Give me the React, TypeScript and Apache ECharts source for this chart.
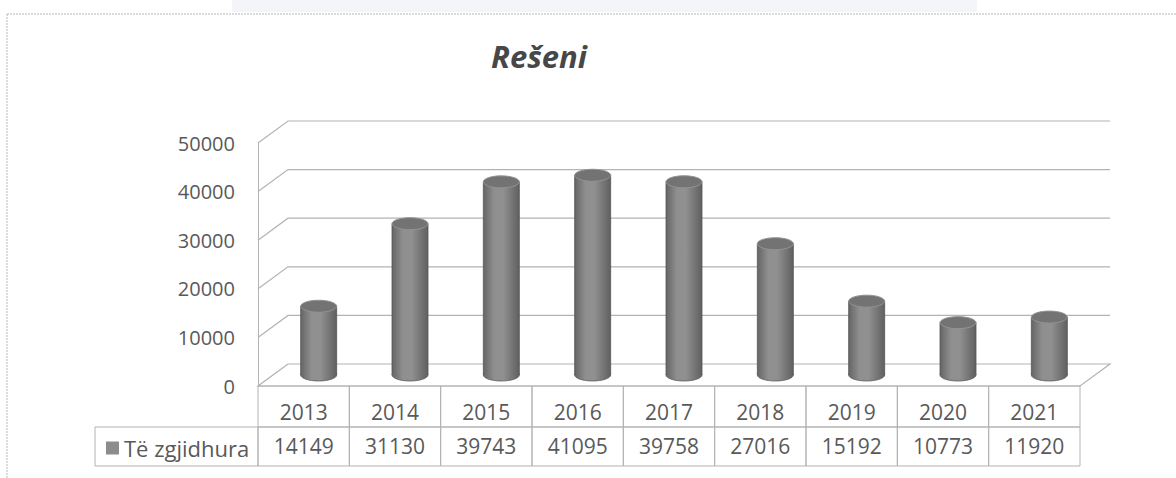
import React, { useEffect, useRef } from "react";
import * as echarts from "echarts";

const titleText = "Rešeni";
const seriesName = "Të zgjidhura";
const years = ["2013", "2014", "2015", "2016", "2017", "2018", "2019", "2020", "2021"];
const resolved = [14149, 31130, 39743, 41095, 39758, 27016, 15192, 10773, 11920];
const yTicks = [0, 10000, 20000, 30000, 40000, 50000];

const DX = 30;
const DY = -22;
const FONT = "'Open Sans', 'Noto Sans', sans-serif";
const TXT = "#595959";
const LINE = "#b3b3b3";

export default function App() {
  const ref = useRef<HTMLDivElement>(null);
  useEffect(() => {
    if (!ref.current) return;
    const chart = echarts.init(ref.current, null, { renderer: "svg" });
    const option: any = {
      animation: false,
      backgroundColor: "#ffffff",
      title: {
        text: titleText,
        left: 534,
        textAlign: "center",
        top: 35,
        textStyle: { fontFamily: FONT, fontSize: 31, fontWeight: "bold", fontStyle: "italic", color: "#474747" },
      },
      legend: {
        data: [seriesName],
        left: 101,
        top: 432,
        icon: "rect",
        itemWidth: 13,
        itemHeight: 13,
        itemGap: 4,
        selectedMode: false,
        textStyle: { fontFamily: FONT, fontSize: 22, color: TXT, padding: [0, 0, 0, 0] },
      },
      graphic: [
        { type: "rect", shape: { x: 232, y: 0, width: 745, height: 12 }, style: { fill: "#f3f5f8" }, z: 0 },
        { type: "line", shape: { x1: 7, y1: 14, x2: 1176, y2: 14 }, style: { stroke: "#b8b8b8", lineWidth: 1, lineDash: [2, 1] } },
        { type: "line", shape: { x1: 7, y1: 14, x2: 7, y2: 478 }, style: { stroke: "#b8b8b8", lineWidth: 1, lineDash: [2, 1] } },
        { type: "rect", shape: { x: 95, y: 427, width: 163, height: 39 }, style: { fill: "none", stroke: LINE, lineWidth: 1 } },
      ],
      grid: { left: 258, right: 96, top: 143, bottom: 92 },
      xAxis: {
        type: "category",
        data: years,
        axisLine: { show: false },
        axisTick: { show: false },
        axisLabel: { show: false },
        splitLine: { show: false },
      },
      yAxis: {
        type: "value",
        min: 0,
        max: 50000,
        interval: 10000,
        axisLine: { show: true, lineStyle: { color: LINE, width: 1 } },
        axisTick: { show: false },
        splitLine: { show: false },
        axisLabel: { margin: 23, fontFamily: FONT, fontSize: 20, color: TXT, formatter: (v: number) => String(v) },
      },
      series: [
        {
          name: "walls",
          type: "custom",
          z: 1,
          silent: true,
          data: yTicks.map((v) => [0, v]),
          renderItem: (params: any, api: any) => {
            const cs = params.coordSys;
            const v = api.value(1);
            const y = api.coord([0, v])[1];
            const x0 = cs.x;
            const x1 = cs.x + cs.width;
            const pts =
              v === 0
                ? [[x0 + DX, y + DY], [x0, y], [x1, y], [x1 + DX, y + DY], [x0 + DX, y + DY]]
                : [[x0, y], [x0 + DX, y + DY], [x1 + DX, y + DY]];
            return {
              type: "polyline",
              shape: { points: pts },
              style: { stroke: LINE, lineWidth: 1.2, fill: "none" },
            };
          },
        },
        {
          name: "table",
          type: "custom",
          z: 2,
          silent: true,
          data: years.map((y, i) => [i, resolved[i]]),
          renderItem: (params: any, api: any) => {
            const cs = params.coordSys;
            const i = api.value(0);
            const v = api.value(1);
            const cx = api.coord([i, 0])[0];
            const bw = api.size([1, 0])[0];
            const top = cs.y + cs.height;
            const h1 = 41;
            const h2 = 39;
            return {
              type: "group",
              children: [
                { type: "rect", shape: { x: cx - bw / 2, y: top, width: bw, height: h1 }, style: { fill: "none", stroke: LINE, lineWidth: 1 } },
                { type: "rect", shape: { x: cx - bw / 2, y: top + h1, width: bw, height: h2 }, style: { fill: "none", stroke: LINE, lineWidth: 1 } },
                {
                  type: "text",
                  style: { text: years[i], x: cx, y: top + 26, align: "center", verticalAlign: "middle", font: `21px ${FONT}`, fill: TXT },
                },
                {
                  type: "text",
                  style: { text: String(v), x: cx, y: top + h1 + 19, align: "center", verticalAlign: "middle", font: `21px ${FONT}`, fill: TXT },
                },
              ],
            };
          },
        },
        {
          name: seriesName,
          type: "custom",
          z: 3,
          itemStyle: { color: "#8c8c8c" },
          data: resolved.map((v, i) => [i, v]),
          renderItem: (params: any, api: any) => {
            const i = api.value(0);
            const v = api.value(1);
            const [cxRaw, yTopRaw] = api.coord([i, v]);
            const yBaseRaw = api.coord([i, 0])[1];
            const cx = cxRaw + DX / 2;
            const yTop = yTopRaw + DY / 2;
            const yBase = yBaseRaw + DY / 2;
            const rx = 18;
            const ry = 6;
            const grad = new echarts.graphic.LinearGradient(0, 0, 1, 0, [
              { offset: 0, color: "#656565" },
              { offset: 0.3, color: "#8f8f8f" },
              { offset: 0.55, color: "#909090" },
              { offset: 1, color: "#606060" },
            ]);
            return {
              type: "group",
              children: [
                { type: "ellipse", shape: { cx, cy: yBase, rx, ry }, style: { fill: grad, stroke: "#5e5e5e", lineWidth: 0.8 } },
                { type: "rect", shape: { x: cx - rx, y: yTop, width: rx * 2, height: yBase - yTop }, style: { fill: grad } },
                { type: "line", shape: { x1: cx - rx, y1: yTop, x2: cx - rx, y2: yBase }, style: { stroke: "#555555", lineWidth: 0.8 } },
                { type: "line", shape: { x1: cx + rx, y1: yTop, x2: cx + rx, y2: yBase }, style: { stroke: "#555555", lineWidth: 0.8 } },
                { type: "ellipse", shape: { cx, cy: yTop, rx, ry }, style: { fill: "#737373", stroke: "#939393", lineWidth: 1 } },
              ],
            };
          },
        },
      ],
    };
    chart.setOption(option);
    return () => chart.dispose();
  }, []);
  return (
    <div
      ref={ref}
      style={{ position: "fixed", left: 0, top: 0, width: 1176, height: 478, background: "#fff" }}
    />
  );
}
